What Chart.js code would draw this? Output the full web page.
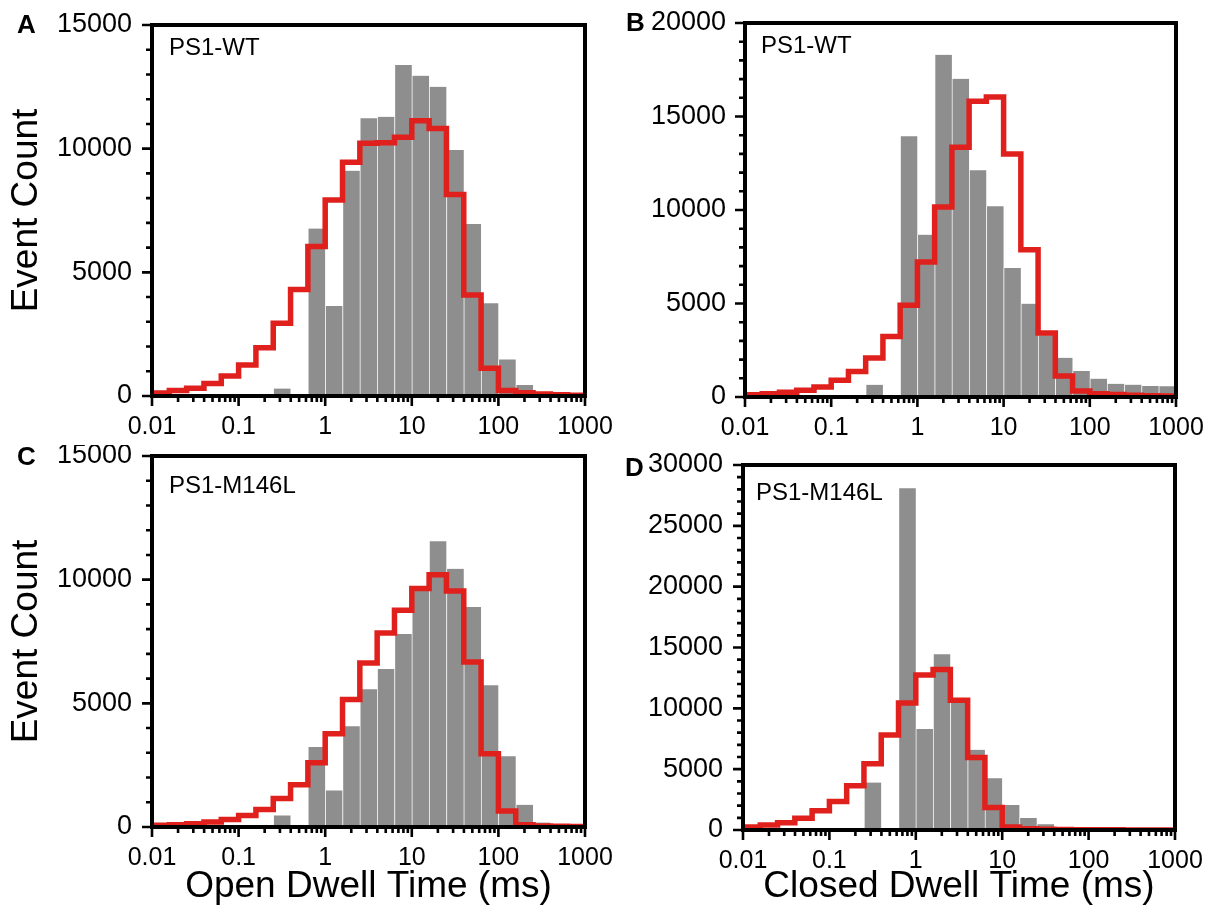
<!DOCTYPE html>
<html>
<head>
<meta charset="utf-8">
<script src="https://cdn.jsdelivr.net/npm/chart.js@4.4.1/dist/chart.umd.min.js"></script>
<style>
  body { margin: 0; background: #fff; }
  #wrap { position: relative; width: 1212px; height: 918px; overflow: hidden; }
  canvas { position: absolute; }
</style>
</head>
<body>
<div id="wrap">
  <canvas id="chartA" width="640" height="445" style="left:0;top:0"></canvas>
  <canvas id="chartB" width="606" height="445" style="left:606px;top:0"></canvas>
  <canvas id="chartC" width="640" height="473" style="left:0;top:445px"></canvas>
  <canvas id="chartD" width="606" height="473" style="left:606px;top:445px"></canvas>
</div>
<script>
// bins: 5 per decade, 0.01 .. 1000 ms
const binEdges = Array.from({length: 26}, (_, k) => Math.pow(10, -2 + k / 5));
const binCentres = Array.from({length: 25}, (_, k) => Math.pow(10, -2 + (k + 0.5) / 5));

const xTickValues = [0.01, 0.1, 1, 10, 100, 1000];
const xTickLabels = ['0.01', '0.1', '1', '10', '100', '1000'];

// event counts per bin (gray histogram)
const wtOpenBars = [0, 0, 0, 0, 0, 0, 0, 300, 0, 6770, 3640, 9110, 11230, 11290, 13380, 12950, 12500, 9950, 6950, 3750, 1480, 440, 60, 20, 10];
const wtClosedBars = [0, 0, 0, 0, 0, 0, 0, 650, 0, 13940, 8680, 18300, 17020, 12120, 10200, 6900, 4990, 3300, 2100, 1390, 980, 710, 660, 590, 570];
const m146OpenBars = [0, 0, 0, 0, 0, 0, 0, 470, 0, 3230, 1480, 4070, 5570, 6390, 7800, 9740, 11550, 10440, 8890, 5730, 2860, 900, 180, 30, 0];
const m146ClosedBars = [0, 0, 0, 0, 0, 0, 0, 3900, 0, 28080, 8300, 14450, 10550, 6590, 4260, 2060, 990, 470, 220, 110, 50, 30, 20, 10, 10];

// fitted distribution per bin (red step)
const wtOpenFit = [120, 220, 310, 510, 810, 1250, 1950, 2940, 4310, 6040, 7920, 9450, 10220, 10240, 10460, 11130, 10820, 8150, 4080, 1120, 220, 130, 80, 50, 30];
const wtClosedFit = [120, 180, 250, 360, 530, 890, 1370, 2090, 3240, 4900, 7220, 10160, 13350, 15810, 16040, 12990, 7880, 3420, 1120, 320, 180, 140, 100, 70, 50];
const m146OpenFit = [70, 90, 130, 200, 300, 460, 710, 1150, 1710, 2600, 3770, 5150, 6630, 7840, 8760, 9640, 10200, 9540, 6670, 2960, 650, 90, 40, 30, 20];
const m146ClosedFit = [250, 410, 600, 960, 1590, 2340, 3630, 5440, 7800, 10440, 12750, 13190, 10660, 5960, 1840, 250, 100, 60, 40, 30, 20, 20, 10, 10, 10];

const yMaxes = {A: 15000, B: 20000, C: 15000, D: 30000};

const FONT = '"Liberation Sans", Arial, Helvetica, sans-serif';
Chart.defaults.font.family = FONT;
Chart.defaults.color = '#000';

const panels = [
  {id: 'chartA', letter: 'A', name: 'PS1-WT', bars: wtOpenBars, fit: wtOpenFit, yMax: yMaxes.A,
   pad: {top: 25, right: 55}, yWidth: 152, xHeight: 49, yTitle: true, xTitle: '',
   letterPos: [17, 33], nameOff: [17, 30], yPad: 20},
  {id: 'chartB', letter: 'B', name: 'PS1-WT', bars: wtClosedBars, fit: wtClosedFit, yMax: yMaxes.B,
   pad: {top: 23, right: 36}, yWidth: 139, xHeight: 48, yTitle: false, xTitle: '',
   letterPos: [20, 31], nameOff: [16, 30], yPad: 19},
  {id: 'chartC', letter: 'C', name: 'PS1-M146L', bars: m146OpenBars, fit: m146OpenFit, yMax: yMaxes.C,
   pad: {top: 11, right: 55}, yWidth: 152, xHeight: 91, yTitle: true, xTitle: 'Open Dwell Time (ms)',
   letterPos: [17, 20], nameOff: [17, 37], yPad: 20},
  {id: 'chartD', letter: 'D', name: 'PS1-M146L', bars: m146ClosedBars, fit: m146ClosedFit, yMax: yMaxes.D,
   pad: {top: 20, right: 37}, yWidth: 137, xHeight: 88, yTitle: false, xTitle: 'Closed Dwell Time (ms)',
   letterPos: [19, 31], nameOff: [13, 35], yPad: 20}
];

// frame, tick marks and panel labels
const frameTicks = {
  id: 'frameTicks',
  afterDatasetsDraw(chart, args, opts) {
    const {ctx, chartArea: a, scales: {x, y}} = chart;
    ctx.save();
    ctx.strokeStyle = '#000';
    ctx.lineWidth = 2.6;
    ctx.beginPath();
    for (let d = -2; d <= 3; d++) {
      for (let m = 1; m <= 9; m++) {
        const v = m * Math.pow(10, d);
        if (v > 1000.001) break;
        const px = x.getPixelForValue(v);
        const len = m === 1 ? 10 : 6;
        ctx.moveTo(px, a.bottom);
        ctx.lineTo(px, a.bottom + len);
      }
    }
    for (let v = 0; v <= y.max; v += 1000) {
      const py = y.getPixelForValue(v);
      const len = v % 5000 === 0 ? 10 : 6;
      ctx.moveTo(a.left, py);
      ctx.lineTo(a.left - len, py);
    }
    ctx.stroke();
    ctx.lineWidth = 4;
    ctx.strokeRect(a.left, a.top, a.right - a.left, a.bottom - a.top);

    ctx.fillStyle = '#000';
    ctx.textAlign = 'left';
    ctx.textBaseline = 'alphabetic';
    ctx.font = 'bold 26px ' + FONT;
    ctx.fillText(opts.letter, opts.letterPos[0], opts.letterPos[1]);
    ctx.font = '24px ' + FONT;
    ctx.fillText(opts.name, a.left + opts.nameOff[0], a.top + opts.nameOff[1]);
    ctx.restore();
  }
};

// labels may hang over the frame; keep the plot box where the layout puts it
function noLabelPadding(s) {
  s.paddingTop = 0;
  s.paddingBottom = 0;
  s.paddingLeft = 0;
  s.paddingRight = 0;
}

function makeChart(p) {
  const fitPoints = binEdges.map((e, k) => ({x: e, y: p.fit[Math.min(k, p.fit.length - 1)]}));
  const barPoints = binCentres.map((c, k) => ({x: c, y: p.bars[k]}));

  return new Chart(document.getElementById(p.id), {
    type: 'bar',
    data: {
      datasets: [{
        type: 'line',
        data: fitPoints,
        borderColor: '#e0201c',
        borderWidth: 5.5,
        borderJoinStyle: 'miter',
        pointRadius: 0,
        stepped: true,
        fill: false,
        order: 0
      }, {
        type: 'bar',
        data: barPoints,
        backgroundColor: '#8e8e8e',
        borderColor: 'rgba(255,255,255,0.35)',
        borderWidth: {left: 1, right: 0, top: 0, bottom: 0},
        barPercentage: 1,
        categoryPercentage: 1,
        order: 1
      }]
    },
    options: {
      responsive: false,
      animation: false,
      devicePixelRatio: 1,
      layout: {padding: {top: p.pad.top, right: p.pad.right, left: 0, bottom: 0}},
      plugins: {
        legend: {display: false},
        tooltip: {enabled: false},
        frameTicks: {letter: p.letter, letterPos: p.letterPos, name: p.name, nameOff: p.nameOff}
      },
      scales: {
        x: {
          type: 'logarithmic',
          min: 0.01,
          max: 1000,
          offset: false,
          afterBuildTicks: s => { s.ticks = xTickValues.map(v => ({value: v})); },
          afterFit: s => { s.height = p.xHeight; noLabelPadding(s); },
          grid: {display: false, drawTicks: false},
          border: {display: false},
          ticks: {
            autoSkip: false,
            maxRotation: 0,
            padding: 16,
            font: {size: 25},
            callback: (v, i) => xTickLabels[i]
          },
          title: {
            display: !!p.xTitle,
            text: p.xTitle,
            font: {size: 37},
            padding: {top: 0, bottom: 9}
          }
        },
        y: {
          min: 0,
          max: p.yMax,
          afterFit: s => { s.width = p.yWidth; noLabelPadding(s); },
          grid: {display: false, drawTicks: false},
          border: {display: false},
          ticks: {
            stepSize: 5000,
            padding: p.yPad,
            font: {size: 27},
            callback: v => String(v)
          },
          title: {
            display: p.yTitle,
            text: 'Event Count',
            font: {size: 37},
            padding: {top: 5, bottom: 0}
          }
        }
      }
    },
    plugins: [frameTicks]
  });
}

panels.forEach(makeChart);
</script>
</body>
</html>
